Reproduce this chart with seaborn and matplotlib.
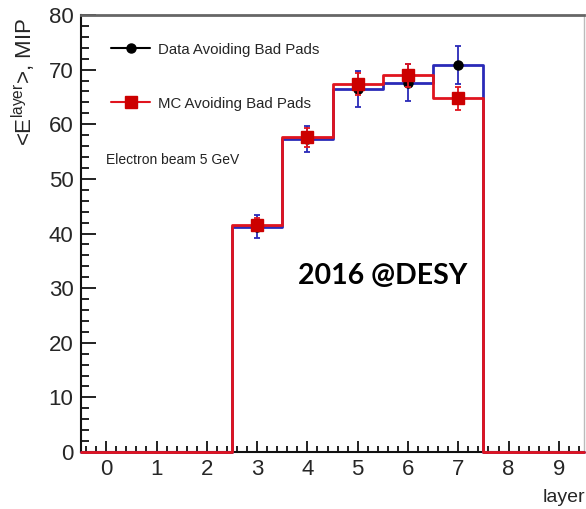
import numpy as np
import pandas as pd
import seaborn as sns
import matplotlib
matplotlib.use("Agg")
import matplotlib.pyplot as plt
from matplotlib.lines import Line2D
from matplotlib.ticker import MultipleLocator

# ---- data ----
layers = [0, 1, 2, 3, 4, 5, 6, 7, 8, 9]
data_vals = [0, 0, 0, 41.2, 57.3, 66.4, 67.6, 70.8, 0, 0]
mc_vals = [0, 0, 0, 41.6, 57.6, 67.4, 69.0, 64.8, 0, 0]
err_layers = [3, 4, 5, 6, 7]
data_err = [2.1, 2.4, 3.3, 3.4, 3.5]
mc_err = [1.2, 1.8, 2.0, 2.1, 2.1]
xtick_labels = ["0", "1", "2", "3", "4", "5", "6", "7", "8", "9"]
legend_labels = ["Data Avoiding Bad Pads", "MC Avoiding Bad Pads"]

sns.set_theme(style="white")
plt.rcParams["font.family"] = ["Liberation Sans", "DejaVu Sans"]
plt.rcParams["mathtext.fontset"] = "custom"
plt.rcParams["mathtext.rm"] = "Liberation Sans"
plt.rcParams["mathtext.it"] = "Liberation Sans"

BLUE = "#2a2ab8"
RED = "#e0141e"
RED_M = "#cc0000"

fig = plt.figure(figsize=(5.86, 5.09), dpi=100)
ax = fig.add_axes([81.1 / 586, 57 / 509, (584 - 81.1) / 586, 437 / 509])

df = pd.DataFrame({"layer": layers, "data": data_vals, "mc": mc_vals})

sns.histplot(data=df, x="layer", weights="data", binwidth=1, binrange=(-0.5, 9.5),
             element="step", fill=False, color=BLUE, linewidth=2.0, ax=ax)
for art in list(ax.lines) + list(ax.patches):
    art.set_clip_on(False)
    art.set_zorder(3)
sub = df[df["layer"].isin(err_layers)]
ax.errorbar(sub["layer"], sub["data"], yerr=data_err, fmt="o", color="black",
            ecolor=BLUE, elinewidth=1.3, capsize=2.2, capthick=1.3,
            markersize=6.5, zorder=4)
before = set(map(id, list(ax.lines) + list(ax.patches)))
sns.histplot(data=df, x="layer", weights="mc", binwidth=1, binrange=(-0.5, 9.5),
             element="step", fill=False, color=RED, linewidth=2.0, ax=ax)
for art in list(ax.lines) + list(ax.patches):
    if id(art) not in before:
        art.set_clip_on(False)
        art.set_zorder(5)
ax.errorbar(sub["layer"], sub["mc"], yerr=mc_err, fmt="s", color=RED_M,
            ecolor=RED, elinewidth=1.3, capsize=2.2, capthick=1.3,
            markersize=8, zorder=6)

ax.set_xlim(-0.5, 9.5)
ax.set_ylim(0, 80)
ax.set_xlabel("")
ax.set_ylabel("")
ax.set_xticks(layers)
ax.set_xticklabels(xtick_labels)
ax.set_yticks(np.arange(0, 81, 10))
ax.xaxis.set_minor_locator(MultipleLocator(0.2))
ax.yaxis.set_minor_locator(MultipleLocator(2))

ax.tick_params(axis="y", which="major", direction="in", length=10.5, width=1.4,
               color="#222222", labelsize=16, pad=5.5, left=True, right=False)
ax.tick_params(axis="y", which="minor", direction="in", length=5.5, width=1.4,
               color="#222222", left=True, right=False)
ax.tick_params(axis="x", which="major", direction="in", length=8, width=1.4,
               color="#222222", labelsize=16, pad=5, bottom=True, top=False)
ax.tick_params(axis="x", which="minor", direction="in", length=4, width=1.4,
               color="#222222", bottom=True, top=False)

for s in ["left", "bottom"]:
    ax.spines[s].set_color("#111111")
    ax.spines[s].set_linewidth(1.5)
ax.spines["top"].set_color("#666666")
ax.spines["top"].set_linewidth(2.0)
ax.spines["right"].set_color("#bbbbbb")
ax.spines["right"].set_linewidth(1.0)

handles = [
    Line2D([0], [0], color="black", lw=1.5, marker="o", markersize=6.5),
    Line2D([0], [0], color=RED, lw=1.5, marker="s", markersize=8,
           markerfacecolor=RED_M, markeredgecolor=RED_M),
]
ax.legend(handles, legend_labels, loc="upper left", bbox_to_anchor=(0.0597, 0.937),
          frameon=False, borderaxespad=0, borderpad=0, handlelength=2.6,
          handletextpad=0.55, labelspacing=2.67, fontsize=10.8)

ax.text(0.0, 53.5, "Electron beam 5 GeV", fontsize=10, ha="left", va="center",
        color="#222222")
ax.text(5.49, 32.3, "2016 @DESY", fontsize=20.5, fontweight="bold",
        family=["Lato", "DejaVu Sans"], ha="center", va="center", color="black")

fig.text(24 / 586, 1 - 18 / 509, r"<E$^{\rm layer}$>, MIP", rotation=90,
         fontsize=16, ha="center", va="top")
fig.text(585 / 586, 1 - 498 / 509, "layer", fontsize=14, ha="right", va="center")

fig.savefig("out.png", dpi=100)
